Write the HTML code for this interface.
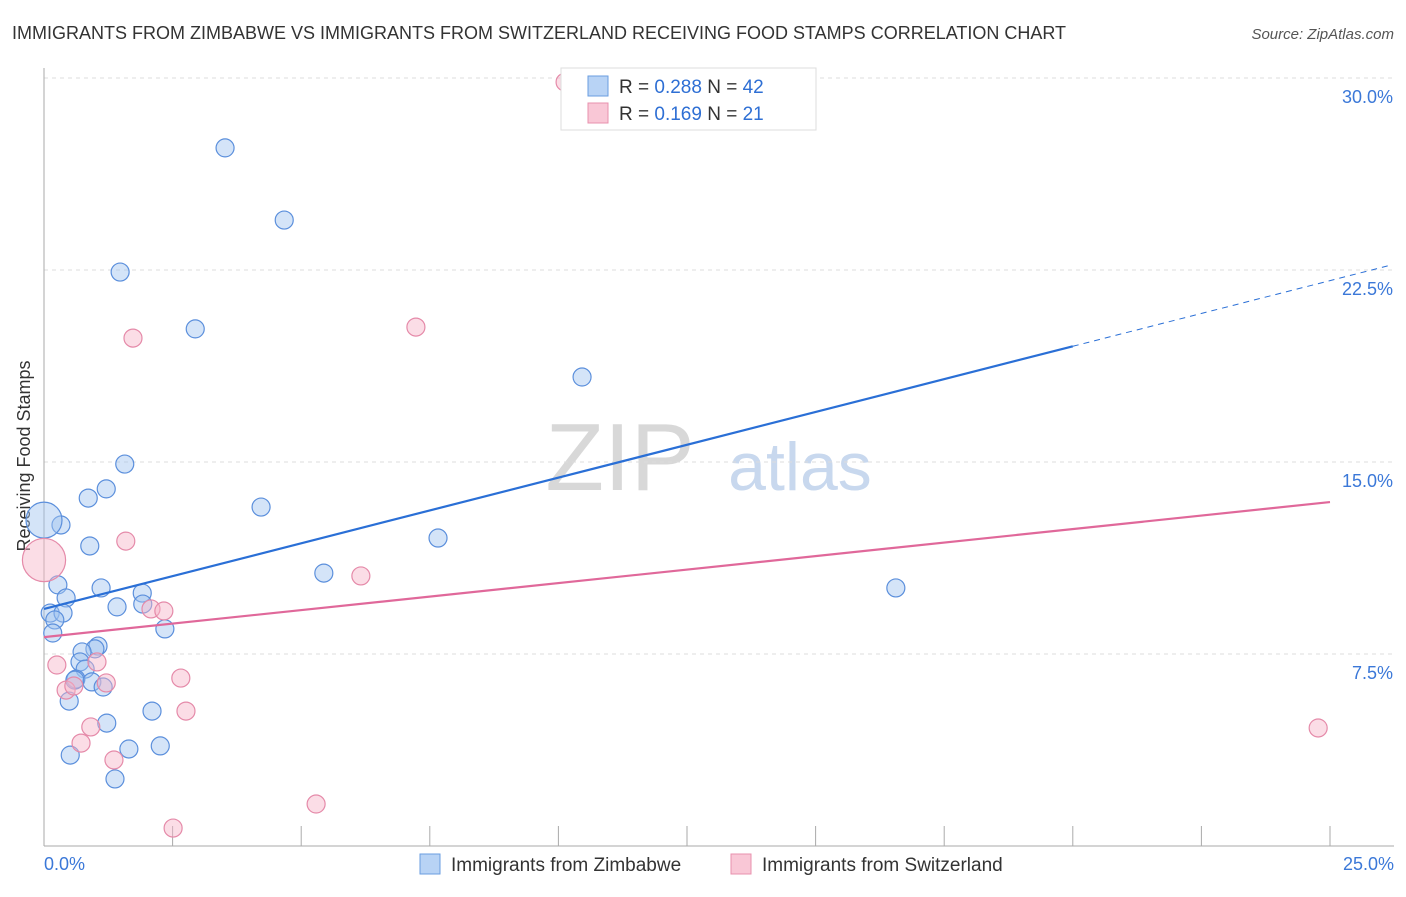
<!DOCTYPE html>
<html><head><meta charset="utf-8"><style>
body{margin:0;background:#fff;font-family:"Liberation Sans",sans-serif;}
svg text{font-family:"Liberation Sans",sans-serif;}
</style></head><body>
<svg id="c" width="1406" height="892">
<text x="12" y="39" font-size="18" fill="#333">IMMIGRANTS FROM ZIMBABWE VS IMMIGRANTS FROM SWITZERLAND RECEIVING FOOD STAMPS CORRELATION CHART</text>
<text x="1394" y="39" font-size="15" fill="#555" font-style="italic" text-anchor="end">Source: ZipAtlas.com</text>
<text x="30" y="456" font-size="18" fill="#333" text-anchor="middle" transform="rotate(-90 30 456)">Receiving Food Stamps</text>
<text x="620" y="490" font-size="96" fill="#d8d8d8" font-family="Liberation Serif" text-anchor="middle">ZIP</text>
<text x="800" y="490" font-size="68" fill="#c8d8ee" text-anchor="middle">atlas</text>
<g id="grid"></g><g id="pts"></g><g id="lines"></g>
<g>
<rect x="561" y="68" width="255" height="62" fill="#fff" stroke="#ddd"/>
<rect x="588" y="76" width="20" height="20" fill="#b8d3f5" stroke="#6a9ee0"/>
<rect x="588" y="103" width="20" height="20" fill="#f9c7d6" stroke="#e890ae"/>
<text x="619" y="93" font-size="19" fill="#333">R = <tspan fill="#2e6fd4">0.288</tspan>   N = <tspan fill="#2e6fd4">42</tspan></text>
<text x="619" y="120" font-size="19" fill="#333">R =  <tspan fill="#2e6fd4">0.169</tspan>   N =  <tspan fill="#2e6fd4">21</tspan></text>
</g>
<g>
<rect x="420" y="854" width="20" height="20" fill="#b8d3f5" stroke="#6a9ee0"/>
<text x="451" y="871" font-size="19" fill="#333">Immigrants from Zimbabwe</text>
<rect x="731" y="854" width="20" height="20" fill="#f9c7d6" stroke="#e890ae"/>
<text x="762" y="871" font-size="19" fill="#333">Immigrants from Switzerland</text>
</g>
</svg>
<script>
const yTicks=[7.5,15,22.5,30];
const yTickLabels=["7.5%","15.0%","22.5%","30.0%"];
const xTickVals=[2.5,5,7.5,10,12.5,15,17.5,20,22.5,25];
const blueX=[3.52,4.67,1.48,2.94,10.46,1.57,1.21,0.86,4.22,0.33,0.0,0.89,7.66,5.44,0.27,1.11,16.56,1.91,0.43,1.42,1.92,0.12,0.37,0.21,2.35,0.17,1.05,0.99,0.74,0.70,0.80,0.62,0.93,1.15,0.49,1.22,2.10,1.65,2.26,0.51,1.38,0.60];
const blueY=[27.27,24.45,22.42,20.20,18.32,14.92,13.95,13.59,13.24,12.54,12.73,11.72,12.03,10.66,10.20,10.08,10.08,9.88,9.69,9.34,9.45,9.10,9.10,8.83,8.48,8.32,7.81,7.70,7.58,7.19,6.91,6.52,6.41,6.21,5.66,4.80,5.27,3.79,3.91,3.55,2.62,6.48];
const blueSize=[1,1,1,1,1,1,1,1,1,1,2,1,1,1,1,1,1,1,1,1,1,1,1,1,1,1,1,1,1,1,1,1,1,1,1,1,1,1,1,1,1,1];
const pinkX=[10.13,1.73,7.23,1.59,6.16,0.0,2.08,2.33,0.25,1.03,0.43,0.58,1.21,2.66,2.76,0.91,0.72,1.36,5.29,2.51,24.77];
const pinkY=[29.84,19.84,20.27,11.91,10.55,11.17,9.26,9.18,7.07,7.19,6.09,6.25,6.37,6.56,5.27,4.65,4.02,3.36,1.64,0.70,4.61];
const pinkSize=[1,1,1,1,1,2.4,1,1,1,1,1,1,1,1,1,1,1,1,1,1,1];
const blueTrend=[9.26,0.513];
const pinkTrend=[8.16,0.211];
const NS="http://www.w3.org/2000/svg";
const X=v=>44+v*51.44, Y=v=>846-v*25.6;
function mk(tag,attrs,parent){const e=document.createElementNS(NS,tag);for(const k in attrs)e.setAttribute(k,attrs[k]);document.getElementById(parent).appendChild(e);return e;}
yTicks.forEach((t,i)=>{
 const l=mk('line',{x1:44,x2:1394,y1:Y(t),y2:Y(t),stroke:'#ddd','stroke-dasharray':'4,4'},'grid');
 
 
 const tx=mk('text',{x:1393,y:Y(t)+25,'font-size':18,fill:'#3b78d8','text-anchor':'end'},'grid');
 tx.textContent=yTickLabels[i];
 
 
});
const ax=mk('line',{x1:44,x2:44,y1:68,y2:846,stroke:'#aaa'},'grid');


const bx=mk('line',{x1:44,x2:1394,y1:846,y2:846,stroke:'#aaa'},'grid');


xTickVals.forEach(t=>{
 const l=mk('line',{x1:X(t),x2:X(t),y1:826,y2:846,stroke:'#aaa'},'grid');
 
 
});
[["0.0%",44,"start"],["25.0%",1394,"end"]].forEach(a=>{
 const t=mk('text',{x:a[1],y:870,'font-size':18,fill:'#3b78d8','text-anchor':a[2]},'grid');
 t.textContent=a[0];
 
 
});
function pts(xs,ys,ss,fill,stroke,name){xs.forEach((x,i)=>{
 const c=mk('circle',{cx:X(x),cy:Y(ys[i]),r:9*ss[i],fill:fill,stroke:stroke,'stroke-width':1.2},'pts');
 
 
});}
pts(blueX,blueY,blueSize,'rgba(160,196,240,0.45)','#5b8fdc','point-zimbabwe');
pts(pinkX,pinkY,pinkSize,'rgba(247,180,200,0.45)','#e58aa9','point-switzerland');
const b1=mk('line',{x1:X(0),y1:Y(blueTrend[0]),x2:X(20),y2:Y(blueTrend[0]+blueTrend[1]*20),stroke:'#2a6fd6','stroke-width':2.2},'lines');


const b2=mk('line',{x1:X(20),y1:Y(blueTrend[0]+blueTrend[1]*20),x2:X(26.2),y2:Y(blueTrend[0]+blueTrend[1]*26.2),stroke:'#2a6fd6','stroke-width':1,'stroke-dasharray':'6,5'},'lines');


const p1=mk('line',{x1:X(0),y1:Y(pinkTrend[0]),x2:X(25),y2:Y(pinkTrend[0]+pinkTrend[1]*25),stroke:'#e0689a','stroke-width':2.2},'lines');


</script>
</body></html>
